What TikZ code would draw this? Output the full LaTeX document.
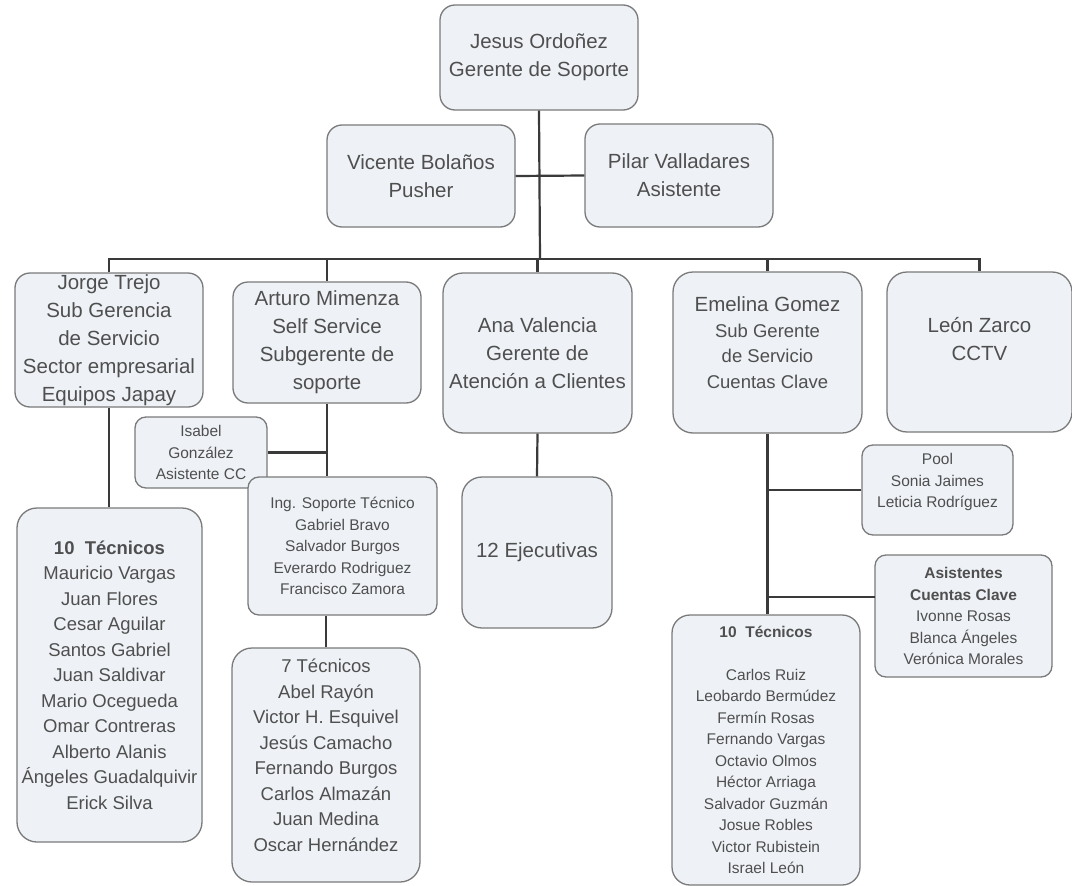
\documentclass[tikz,border=0pt]{standalone}
\usepackage{fontspec}
\setmainfont{Liberation Sans}
\usetikzlibrary{calc}
\definecolor{boxfill}{HTML}{EEF2F6}
\definecolor{boxline}{HTML}{7A7A7A}
\definecolor{txtgray}{HTML}{4F4F4F}
\definecolor{linkgray}{HTML}{3A3A3A}
\tikzset{
  puesto/.style={draw=boxline, fill=boxfill, line width=1.3pt, rounded corners=15pt, inner sep=0pt, align=center, text=txtgray},
  grande/.style={font=\fontsize{20.5}{28}\selectfont},
  medio/.style={font=\fontsize{18.5}{25.5}\selectfont},
  chico/.style={font=\fontsize{15.5}{21.5}\selectfont, rounded corners=11pt},
  enlace/.style={draw=linkgray, line width=2.2pt},
}

\begin{document}
\begin{tikzpicture}[x=1pt, y=-1pt]
		%%%%% START %%%%%
		\useasboundingbox[fill=white] (0,0) rectangle (1072,886);
		
		% direccion
		\node[puesto, grande, minimum width=198pt, minimum height=105pt] (jesus) at (539,57.5) {Jesus Ordoñez\\Gerente de Soporte};
		\node[puesto, grande, minimum width=188pt, minimum height=102pt] (vicente) at (421,176) {Vicente Bolaños\\Pusher};
		\node[puesto, grande, minimum width=188pt, minimum height=103pt] (pilar) at (679,175.5) {Pilar Valladares\\Asistente};
		
		% gerencias
		\node[puesto, grande, minimum width=188pt, minimum height=134pt] (jorge) at (109,340) {Jorge Trejo\\Sub Gerencia\\de Servicio\\Sector empresarial\\Equipos Japay};
		\node[puesto, grande, minimum width=188pt, minimum height=121pt] (arturo) at (327,342.5) {Arturo Mimenza\\Self Service\\Subgerente de\\soporte};
		\node[puesto, grande, rounded corners=20pt, minimum width=189pt, minimum height=160pt] (ana) at (537.5,353) {Ana Valencia\\Gerente de\\Atención a Clientes};
		\node[puesto, medio, rounded corners=20pt, minimum width=189pt, minimum height=161pt, text depth=20pt] (emelina) at (767.5,352.5) {{\fontsize{20.5}{25.5}\selectfont Emelina Gomez}\\Sub Gerente\\de Servicio\\Cuentas Clave};
		\node[puesto, grande, rounded corners=20pt, minimum width=185pt, minimum height=160pt, text depth=26pt] (leon) at (979.5,352) {León Zarco\\CCTV};
		
		% equipos
		\node[puesto, medio, rounded corners=20pt, minimum width=185pt, minimum height=334pt] (tecJ) at (109.5,675) {\textbf{10~~Técnicos}\\Mauricio Vargas\\Juan Flores\\Cesar Aguilar\\Santos Gabriel\\Juan Saldivar\\Mario Ocegueda\\Omar Contreras\\Alberto Alanis\\Ángeles Guadalquivir\\Erick Silva};
		\node[puesto, chico, minimum width=132pt, minimum height=71pt] (isabel) at (201,452.5) {Isabel\\González\\Asistente CC};
		\node[puesto, chico, minimum width=189pt, minimum height=138pt] (ing) at (342.5,546) {Ing. Soporte Técnico\\Gabriel Bravo\\Salvador Burgos\\Everardo Rodriguez\\Francisco Zamora};
		\node[puesto, medio, rounded corners=20pt, minimum width=188pt, minimum height=234pt, text depth=20pt] (tec7) at (326,765) {7 Técnicos\\Abel Rayón\\Victor H. Esquivel\\Jesús Camacho\\Fernando Burgos\\Carlos Almazán\\Juan Medina\\Oscar Hernández};
		\node[puesto, grande, rounded corners=20pt, minimum width=150pt, minimum height=151pt] (ejec) at (537,552.5) {12 Ejecutivas};
		\node[puesto, chico, minimum width=151pt, minimum height=90pt, text depth=19pt] (pool) at (937.5,490) {Pool\\Sonia Jaimes\\Leticia Rodríguez};
		\node[puesto, chico, minimum width=177pt, minimum height=122pt] (asist) at (963.5,616) {\textbf{Asistentes}\\\textbf{Cuentas Clave}\\Ivonne Rosas\\Blanca Ángeles\\Verónica Morales};
		\node[puesto, chico, rounded corners=18pt, minimum width=188pt, minimum height=270pt] (tecE) at (766,750) {\textbf{10~~Técnicos}\\[21.5pt]Carlos Ruiz\\Leobardo Bermúdez\\Fermín Rosas\\Fernando Vargas\\Octavio Olmos\\Héctor Arriaga\\Salvador Guzmán\\Josue Robles\\Victor Rubistein\\Israel León};
		
		% lineas
		\coordinate (bus) at (540,259);
		\draw[enlace] (jesus.south) -- (bus);
		\draw[enlace] (vicente.east) -- (pilar.west);
		\draw[enlace] (jorge.north) -- (jorge.north |- bus) -- (leon.north |- bus) -- (leon.north);
		\foreach \n in {arturo,ana,emelina}
			\draw[enlace] (\n.north) -- (\n.north |- bus);
		
		\draw[enlace] (jorge.south) -- (jorge.south |- tecJ.north);
		\draw[enlace] (arturo.south) -- (arturo.south |- ing.north);
		\draw[enlace] (isabel.east) -- (arturo.south |- isabel.east);
		\draw[enlace] (tec7.north) -- (tec7.north |- ing.south);
		\draw[enlace] (ana.south) -- (ejec.north);
		
		\draw[enlace] (emelina.south) -- (emelina.south |- tecE.north);
		\draw[enlace] (pool.west) -- (emelina.south |- pool.west);
		\coordinate (asistin) at (875,597);
		\draw[enlace] (asistin) -- (emelina.south |- asistin);
		
		%%%%% END %%%%%
\end{tikzpicture}
\end{document}
